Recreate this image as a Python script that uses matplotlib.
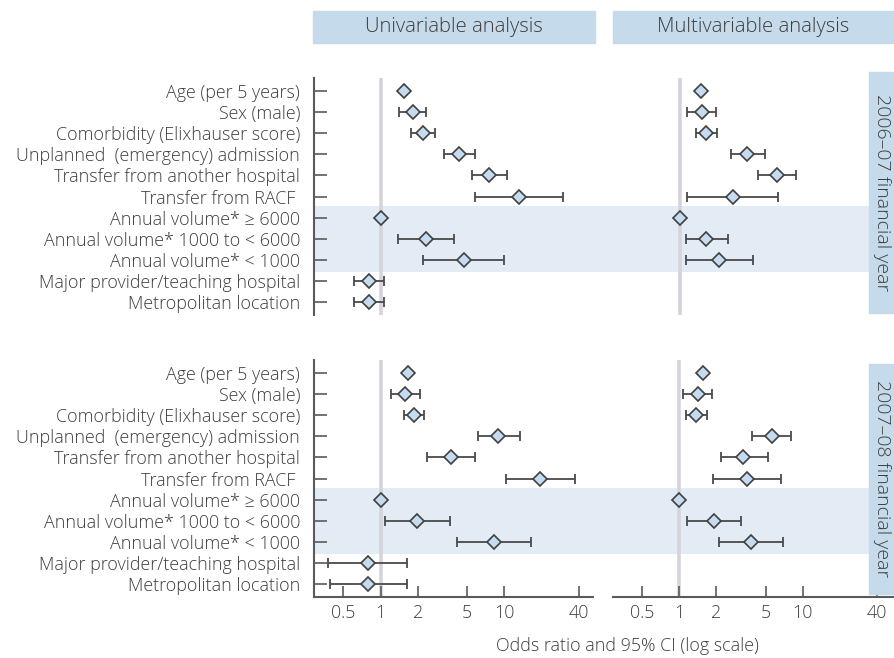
import matplotlib
matplotlib.use("Agg")
import matplotlib.pyplot as plt
from matplotlib.patches import Rectangle
import numpy as np

plt.rcParams['font.family'] = ['Open Sans', 'DejaVu Sans']
plt.rcParams['font.weight'] = 'light'

labels = ["Age (per 5 years)", "Sex (male)", "Comorbidity (Elixhauser score)",
          "Unplanned  (emergency) admission", "Transfer from another hospital",
          "Transfer from RACF ", "Annual volume* \u2265 6000",
          "Annual volume* 1000 to < 6000", "Annual volume* < 1000",
          "Major provider/teaching hospital", "Metropolitan location"]

# odds ratio, lower CI, upper CI (nan = not in model / no CI drawn)
uni_0607_or = [1.54, 1.82, 2.19, 4.34, 7.57, 13.2, 1.0, 2.31, 4.70, 0.80, 0.80]
uni_0607_lo = [np.nan, 1.41, 1.75, 3.24, 5.49, 5.84, np.nan, 1.38, 2.22, 0.614, 0.614]
uni_0607_hi = [np.nan, 2.35, 2.74, 5.80, 10.6, 29.9, np.nan, 3.95, 10.0, 1.06, 1.06]

multi_0607_or = [1.47, 1.52, 1.64, 3.49, 6.10, 2.69, 1.0, 1.64, 2.06, np.nan, np.nan]
multi_0607_lo = [np.nan, 1.15, 1.36, 2.56, 4.29, 1.15, np.nan, 1.13, 1.12, np.nan, np.nan]
multi_0607_hi = [np.nan, 1.97, 1.99, 4.82, 8.68, 6.17, np.nan, 2.44, 3.88, np.nan, np.nan]

uni_0708_or = [1.67, 1.59, 1.86, 8.95, 3.71, 19.5, 1.0, 1.98, 8.20, 0.79, 0.79]
uni_0708_lo = [np.nan, 1.21, 1.56, 6.10, 2.36, 10.4, np.nan, 1.08, 4.18, 0.379, 0.388]
uni_0708_hi = [np.nan, 2.09, 2.24, 13.3, 5.84, 37.2, np.nan, 3.65, 16.4, 1.64, 1.64]

multi_0708_or = [1.56, 1.41, 1.38, 5.59, 3.30, 3.54, 1.0, 1.92, 3.83, np.nan, np.nan]
multi_0708_lo = [np.nan, 1.08, 1.13, 3.86, 2.16, 1.89, np.nan, 1.15, 2.10, np.nan, np.nan]
multi_0708_hi = [np.nan, 1.86, 1.68, 8.00, 5.19, 6.70, np.nan, 3.19, 6.90, np.nan, np.nan]

xticks = [0.5, 1, 2, 5, 10, 40]
xticklabels = ["0.5", "1", "2", "5", "10", "40"]
band_rows = [6, 7, 8]
years = ["2006\u201307 financial year", "2007\u201308 financial year"]
headers = ["Univariable analysis", "Multivariable analysis"]

W, H = 894, 658
fig = plt.figure(figsize=(W / 100, H / 100), dpi=100)

txt_col = "#3d3d3d"
axis_col = "#5a5a5a"
box_col = "#c5daea"
band_col = "#e3ebf4"
fs = 12.9


def px_axes(l, t, r, b):
    return fig.add_axes([l / W, 1 - b / H, (r - l) / W, (b - t) / H])


def fig_box(l, t, r, b):
    fig.patches.append(Rectangle((l / W, 1 - b / H), (r - l) / W, (b - t) / H,
                                 transform=fig.transFigure, color=box_col, zorder=0))


def forest(ax, odds, lo, hi):
    rows = np.arange(len(odds))
    odds = np.array(odds); lo = np.array(lo); hi = np.array(hi)
    ok = ~np.isnan(lo)
    ax.errorbar(odds[ok], rows[ok], xerr=[odds[ok] - lo[ok], hi[ok] - odds[ok]],
                fmt="none", ecolor="#4a4a4a", elinewidth=1.3, capsize=3.4,
                capthick=1.3, zorder=3)
    ax.plot(odds, rows, "D", ms=7.2, mfc="#c5dcf0", mec="#404040", mew=1.2,
            ls="none", zorder=4)
    ax.axvline(1, color="#d4d4da", lw=2.6, zorder=1)
    ax.set_xscale("log")
    ax.set_xlim(0.29, 52)
    ax.set_ylim(10.6, -0.6)
    ax.set_facecolor("none")
    for s in ax.spines.values():
        s.set_visible(False)
    ax.tick_params(axis="both", direction="in", colors=axis_col, labelcolor=txt_col,
                   width=1.2)
    ax.minorticks_off()


panels = [
    (78, 315, uni_0607_or, uni_0607_lo, uni_0607_hi, multi_0607_or, multi_0607_lo, multi_0607_hi),
    (360, 597, uni_0708_or, uni_0708_lo, uni_0708_hi, multi_0708_or, multi_0708_lo, multi_0708_hi),
]

for i, (top, bot, uo, ul, uh, mo, ml, mh) in enumerate(panels):
    ax_u = px_axes(314, top, 593, bot)
    ax_m = px_axes(613, top, 893, bot)
    forest(ax_u, uo, ul, uh)
    forest(ax_m, mo, ml, mh)

    # shaded band for hospital volume rows, runs across both panels
    ax_u.axhspan(min(band_rows) - 0.55, max(band_rows) + 0.55, xmin=0,
                 xmax=(869 - 314) / (593 - 314), color=band_col, zorder=0,
                 clip_on=False, lw=0)

    ax_u.spines["left"].set_visible(True)
    ax_u.spines["left"].set_color(axis_col)
    ax_u.spines["left"].set_linewidth(1.5)
    ax_u.set_yticks(range(len(labels)))
    ax_u.set_yticklabels(labels, fontsize=fs)
    ax_u.tick_params(axis="y", length=9, pad=10)
    ax_m.set_yticks([])

    if i == 1:
        for ax in (ax_u, ax_m):
            ax.spines["bottom"].set_visible(True)
            ax.spines["bottom"].set_color(axis_col)
            ax.spines["bottom"].set_linewidth(1.5)
            ax.set_xticks(xticks)
            ax.set_xticklabels(xticklabels, fontsize=fs)
            ax.tick_params(axis="x", length=8, pad=5)
        ax_m.set_xlim(0.292, 53.5)
    else:
        ax_u.set_xticks([])
        ax_m.set_xticks([])

    # year label box on the right
    b_top, b_bot = (72, 313) if i == 0 else (364, 594)
    fig_box(869, b_top, 894, b_bot)
    fig.text(882 / W, 1 - (b_top + b_bot) / 2 / H, years[i], rotation=270,
             ha="center", va="center", fontsize=14, color=txt_col)

# column headers
for (l, r), h in zip([(313, 595), (613, 894)], headers):
    fig_box(l, 11, r, 43)
    fig.text((l + r) / 2 / W, 1 - 27 / H, h, ha="center", va="center",
             fontsize=14.6, color=txt_col)

fig.text(627 / W, 1 - 646 / H, "Odds ratio and 95% CI (log scale)", ha="center",
         va="center", fontsize=fs, color=txt_col)

fig.savefig("out.png", dpi=100)
